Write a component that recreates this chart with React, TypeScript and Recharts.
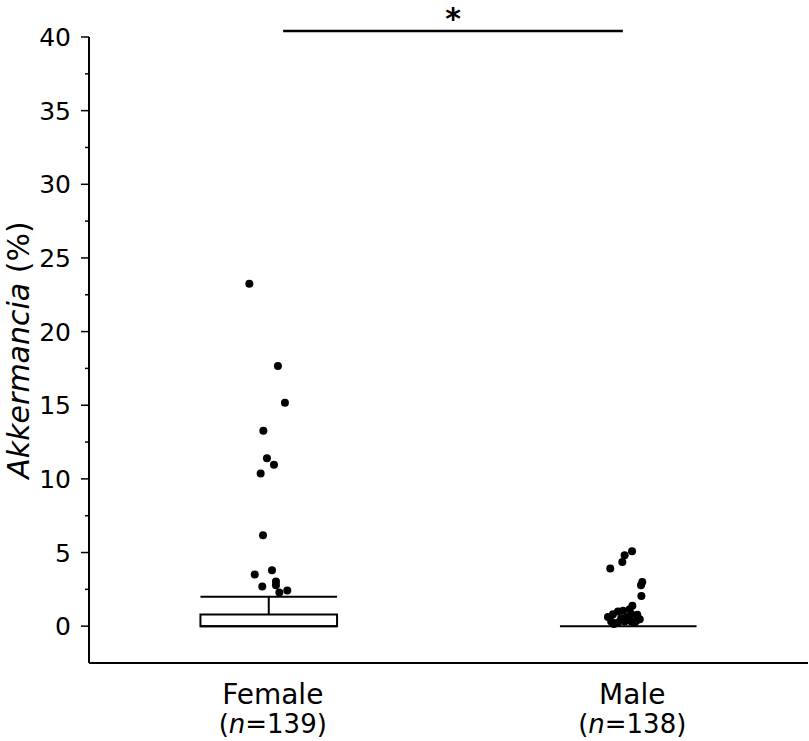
import React from "react";
import { ComposedChart, XAxis, YAxis, ZAxis, Scatter, ReferenceLine, ReferenceArea, Label } from "recharts";

const FONT = "'DejaVu Sans', Verdana, sans-serif";

// groups on the x axis
const groupNames = ["Female", "Male"];
const groupCounts = [139, 138];
const groupPositions = [1, 3];

// box plot statistics (% abundance)
const boxQ1 = [0, 0];
const boxMedian = [0, 0];
const boxQ3 = [0.8, 0];
const whiskerHigh = [2.0, 0];
const BOX_HALF = 0.38;

// outliers (x = jittered position, y = %)
const femaleX = [0.892, 1.051, 1.09, 0.97, 0.99, 1.029, 0.955, 0.968, 0.922, 1.018, 0.964, 1.04, 1.04, 1.059, 1.103];
const femaleY = [23.24, 17.66, 15.17, 13.26, 11.4, 10.96, 10.37, 6.17, 3.5, 3.79, 2.69, 3.03, 2.78, 2.28, 2.42];
const maleX = [3.021, 2.98, 2.967, 2.9, 3.078, 3.071, 3.073, 3.023, 3.008, 2.971, 2.943, 2.915, 3.05, 3.017, 2.995, 2.887, 3.064, 2.961, 2.905, 2.98, 3.017, 3.045, 2.943, 2.92, 3.034];
const maleY = [5.08, 4.81, 4.36, 3.91, 3.0, 2.78, 2.05, 1.38, 1.15, 1.04, 0.99, 0.81, 0.77, 0.81, 0.63, 0.63, 0.47, 0.54, 0.32, 0.32, 0.32, 0.36, 0.25, 0.15, 0.22];

// y ticks: labelled every 5, minor every 2.5
const yTicks = [0, 2.5, 5, 7.5, 10, 12.5, 15, 17.5, 20, 22.5, 25, 27.5, 30, 32.5, 35, 37.5, 40];

// significance bracket
const sigFrom = 1.08;
const sigTo = 2.97;
const sigLevel = 40.4;
const sigMark = "*";

const femalePoints = femaleX.map((x, i) => ({ x, y: femaleY[i] }));
const malePoints = maleX.map((x, i) => ({ x, y: maleY[i] }));

const YTick = (props: any) => {
  const { x, y, payload } = props;
  const major = payload.value % 5 === 0;
  return (
    <g>
      <line x1={x - (major ? 8 : 4)} x2={x} y1={y} y2={y} stroke="#000" strokeWidth={1.5} />
      {major && (
        <text x={x - 18} y={y + 9} textAnchor="end" fontSize={25} fontFamily={FONT} fill="#000">
          {payload.value}
        </text>
      )}
    </g>
  );
};

const XTick = (props: any) => {
  const { x, y, payload } = props;
  const i = groupPositions.indexOf(payload.value);
  if (i < 0) return null;
  return (
    <g fontFamily={FONT} fill="#000">
      <text x={x + 4} y={y + 41} textAnchor="middle" fontSize={28}>
        {groupNames[i]}
      </text>
      <text x={x + 4} y={y + 70} textAnchor="middle" fontSize={26}>
        (<tspan fontStyle="italic">n</tspan>={groupCounts[i]})
      </text>
    </g>
  );
};

const YLabel = (props: any) => {
  const vb = props.viewBox;
  const cx = vb.x + 28.5;
  const cy = vb.y + vb.height / 2;
  return (
    <text
      x={cx}
      y={cy}
      transform={`rotate(-90, ${cx}, ${cy})`}
      textAnchor="middle"
      fontSize={30}
      fontFamily={FONT}
      fill="#000"
    >
      <tspan fontStyle="italic">Akkermancia</tspan> (%)
    </text>
  );
};

const SigLabel = (props: any) => {
  const vb = props.viewBox;
  return (
    <text x={vb.x + vb.width / 2} y={vb.y - 2} textAnchor="middle" fontSize={30} fontWeight="bold" fontFamily={FONT} fill="#000">
      {sigMark}
    </text>
  );
};

const Dot = (props: any) => <circle cx={props.cx} cy={props.cy} r={4} fill="#000" />;

export default function App() {
  return (
    <div style={{ position: "absolute", left: 0, top: 0, background: "#fff" }}>
      <ComposedChart width={809} height={741} margin={{ top: 37, right: 1, bottom: 0, left: 0 }}>
        <XAxis
          type="number"
          dataKey="x"
          domain={[0, 4]}
          ticks={groupPositions}
          tick={<XTick />}
          tickLine={false}
          tickSize={0}
          tickMargin={0}
          height={78}
          axisLine={{ stroke: "#000", strokeWidth: 2 }}
        />
        <YAxis
          type="number"
          dataKey="y"
          domain={[-2.5, 40]}
          ticks={yTicks}
          interval={0}
          tick={<YTick />}
          tickLine={false}
          tickSize={0}
          tickMargin={0}
          width={89}
          axisLine={{ stroke: "#000", strokeWidth: 2 }}
        >
          <Label content={<YLabel />} />
        </YAxis>
        <ZAxis range={[50, 50]} />
        {groupPositions.map((pos, i) => (
          <React.Fragment key={groupNames[i]}>
            {boxQ3[i] > boxQ1[i] && (
              <ReferenceArea
                x1={pos - BOX_HALF}
                x2={pos + BOX_HALF}
                y1={boxQ1[i]}
                y2={boxQ3[i]}
                fill="#fff"
                fillOpacity={1}
                stroke="#000"
                strokeWidth={2}
              />
            )}
            {boxQ3[i] > boxQ1[i] && (
              <ReferenceLine
                segment={[{ x: pos - BOX_HALF, y: boxMedian[i] }, { x: pos + BOX_HALF, y: boxMedian[i] }]}
                stroke="#000"
                strokeWidth={2}
              />
            )}
            {whiskerHigh[i] > boxQ3[i] && (
              <ReferenceLine
                segment={[{ x: pos, y: boxQ3[i] }, { x: pos, y: whiskerHigh[i] }]}
                stroke="#000"
                strokeWidth={2}
              />
            )}
            <ReferenceLine
              segment={[{ x: pos - BOX_HALF, y: whiskerHigh[i] }, { x: pos + BOX_HALF, y: whiskerHigh[i] }]}
              stroke="#000"
              strokeWidth={2}
            />
          </React.Fragment>
        ))}
        <Scatter data={femalePoints} fill="#000" shape={<Dot />} isAnimationActive={false} />
        <Scatter data={malePoints} fill="#000" shape={<Dot />} isAnimationActive={false} />
        <ReferenceLine
          segment={[{ x: sigFrom, y: sigLevel }, { x: sigTo, y: sigLevel }]}
          stroke="#000"
          strokeWidth={2.5}
          ifOverflow="visible"
          label={<SigLabel />}
        />
      </ComposedChart>
    </div>
  );
}
